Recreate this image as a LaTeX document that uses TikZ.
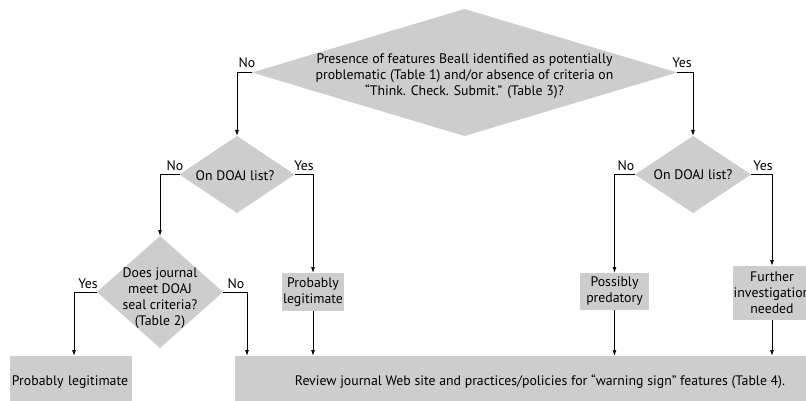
\documentclass[tikz,border=0pt]{standalone}
\usepackage{fontspec}
\setmainfont{PT Sans}
\usetikzlibrary{shapes.geometric,arrows.meta}
\definecolor{boxgray}{RGB}{205,205,205}
\begin{document}
\begin{tikzpicture}[x=1pt,y=-1pt,
  dia/.style={diamond,fill=boxgray,draw=none,inner sep=0pt,outer sep=0pt},
  gbox/.style={rectangle,fill=boxgray,draw=none,inner sep=0pt,outer sep=0pt,align=center,font=\fontsize{13.8}{16}\selectfont},
  txt/.style={align=center,inner sep=0pt,font=\fontsize{13.8}{16}\selectfont},
  lab/.style={inner sep=0pt,font=\fontsize{13.8}{16}\selectfont},
  arr/.style={line width=0.9pt,-{Latex[length=6pt,width=4pt]}}]
\useasboundingbox (0,0) rectangle (806,401);
\clip (0,0) rectangle (806,401);
% diamonds
\node[dia,minimum width=425pt,minimum height=127pt] (d0) at (464.5,72.5) {};
\node[dia,minimum width=115pt,minimum height=77pt] (d1) at (237,174.5) {};
\node[dia,minimum width=116pt,minimum height=77pt] (d2) at (693,174.5) {};
\node[dia,minimum width=126pt,minimum height=112pt] (d3) at (160,292) {};
\node[txt] (t0) at (464.5,76.5) {Presence of features Beall identified as potentially\\problematic (Table 1) and/or absence of criteria on\\``Think. Check. Submit.'' (Table 3)?};
\node[txt] (t1) at (235,176) {On DOAJ list?};
\node[txt] (t2) at (693,175) {On DOAJ list?};
\node[txt] (t3) at (160,298) {Does journal\\meet DOAJ\\seal criteria?\\(Table 2)};
% boxes
\node[gbox,minimum width=122pt,minimum height=52pt,text width=118pt,align=left] (b1) at (71,382) {Probably legitimate};
\node[gbox,minimum width=610pt,minimum height=52pt] (b2) at (540,382) {Review journal Web site and practices/policies for ``warning sign'' features (Table 4).};
\node[gbox,minimum width=62pt,minimum height=38pt] (b3) at (313,292) {Probably\\legitimate};
\node[gbox,minimum width=69pt,minimum height=37pt] (b4) at (614.5,291.5) {Possibly\\predatory};
\node[gbox,minimum width=78pt,minimum height=54pt] (b5) at (772,293) {Further\\investigation\\needed};
% connectors
\draw[arr] (d0.west) -| (d1.north);
\draw[arr] (d0.east) -| (d2.north);
\draw[arr] (d1.west) -| (d3.north);
\draw[arr] (d1.east) -| (b3.north);
\draw[arr] (d2.west) -| (b4.north);
\draw[arr] (d2.east) -| (b5.north);
\draw[arr] (d3.west) -| ([xshift=3pt]b1.north);
\draw[arr] (d3.east) -| ([xshift=12pt]b2.north west);
\draw[arr] (b3.south) -- (b3.south |- b2.north);
\draw[arr] (b4.south) -- (b4.south |- b2.north);
\draw[arr] (b5.south) -- (b5.south |- b2.north);
% labels
\node[lab] (l0n) at (247,63) {No};
\node[lab] (l0y) at (682,63) {Yes};
\node[lab] (l1n) at (175,166) {No};
\node[lab] (l1y) at (304,166) {Yes};
\node[lab] (l2n) at (626,166) {No};
\node[lab] (l2y) at (763,166) {Yes};
\node[lab] (l3y) at (88,284) {Yes};
\node[lab] (l3n) at (236,284) {No};
\end{tikzpicture}
\end{document}
